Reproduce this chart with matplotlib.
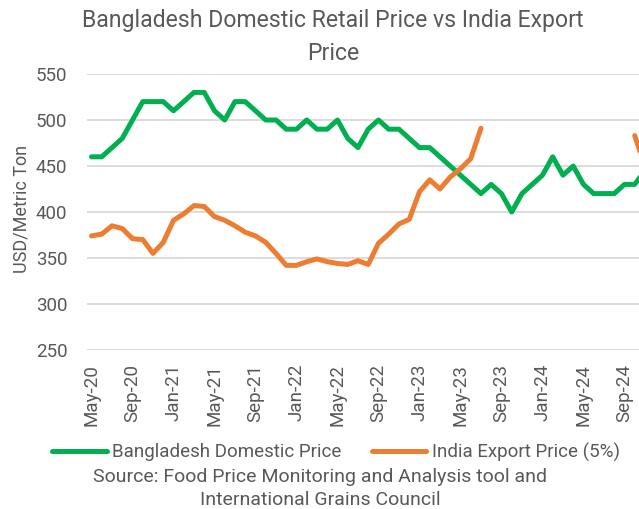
import numpy as np
import matplotlib
matplotlib.use("Agg")
import matplotlib.pyplot as plt

# x tick labels, every 4 months from May-20
tick_labels = ["May-20", "Sep-20", "Jan-21", "May-21", "Sep-21", "Jan-22", "May-22",
               "Sep-22", "Jan-23", "May-23", "Sep-23", "Jan-24", "May-24", "Sep-24"]

# Bangladesh domestic retail price (USD/t), monthly from May-20
bangladesh = [460, 460, 470, 480, 500, 520, 520, 520, 510, 520, 530, 530, 510, 500,
              520, 520, 510, 500, 500, 490, 490, 500, 490, 490, 500, 480, 470, 490,
              500, 490, 490, 480, 470, 470, 460, 450, 440, 430, 420, 430, 420, 400,
              420, 430, 440, 460, 440, 450, 430, 420, 420, 420, 430, 430, 445]

# India export price 5% broken (USD/t); gap while exports were banned
india = [374, 376, 385, 382, 371, 370, 355, 367, 391, 398, 407, 406, 395, 391,
         385, 378, 374, 367, 355, 342, 342, 346, 349, 346, 344, 343, 347, 343,
         366, 376, 387, 392, 422, 435, 425, 438, 447, 458, 491,
         None, None, None, None, None, None, None, None, None, None, None, None,
         None, None, 483, 450]

green = "#00B050"
orange = "#ED7D31"
txt = "#595959"

plt.rcParams['font.family'] = ['Roboto', 'DejaVu Sans']

fig = plt.figure(figsize=(6.39, 5.09), dpi=100)
ax = fig.add_axes([87 / 639, 159 / 509, 1 - 87 / 639, 276 / 509])

x = np.arange(len(bangladesh))
ind = np.array([np.nan if v is None else v for v in india], dtype=float)

ax.plot(x, bangladesh, color=green, lw=3.6, solid_joinstyle="round",
        solid_capstyle="round", label="Bangladesh Domestic Price")
ax.plot(x, ind, color=orange, lw=3.6, solid_joinstyle="round",
        solid_capstyle="round", label="India Export Price (5%)")

ax.set_xlim(-0.44, 53.42)
ax.set_ylim(250, 550)
ax.set_yticks(range(250, 551, 50))
ax.set_xticks(range(0, 53, 4))
ax.set_xticklabels(tick_labels, rotation=90, va="top", ha="center")
ax.tick_params(axis="both", length=0, labelcolor=txt, labelsize=13.5)
ax.tick_params(axis="y", pad=14)
ax.tick_params(axis="x", pad=10)
ax.grid(axis="y", color="#D9D9D9", lw=1.3)
ax.set_axisbelow(True)
for s in ax.spines.values():
    s.set_visible(False)

fig.text(333 / 639, 1 - 37 / 509, "Bangladesh Domestic Retail Price vs India Export\nPrice",
         ha="center", va="center", fontsize=16.6, color=txt, linespacing=1.55)
fig.text(22 / 639, 1 - 209 / 509, "USD/Metric Ton", rotation=90, ha="center",
         va="center", fontsize=13, color=txt)

fig.legend(loc="center", bbox_to_anchor=(336 / 639, 1 - 452 / 509), ncol=2,
           frameon=False, fontsize=13.5, handlelength=2.9, handletextpad=0.3,
           columnspacing=1.6, labelcolor=txt)

fig.text(320 / 639, 1 - 477 / 509, "Source: Food Price Monitoring and Analysis tool and",
         ha="center", va="center", fontsize=14, color=txt)
fig.text(320 / 639, 1 - 500 / 509, "International Grains Council",
         ha="center", va="center", fontsize=14, color=txt)

fig.savefig("out.png", dpi=100)
